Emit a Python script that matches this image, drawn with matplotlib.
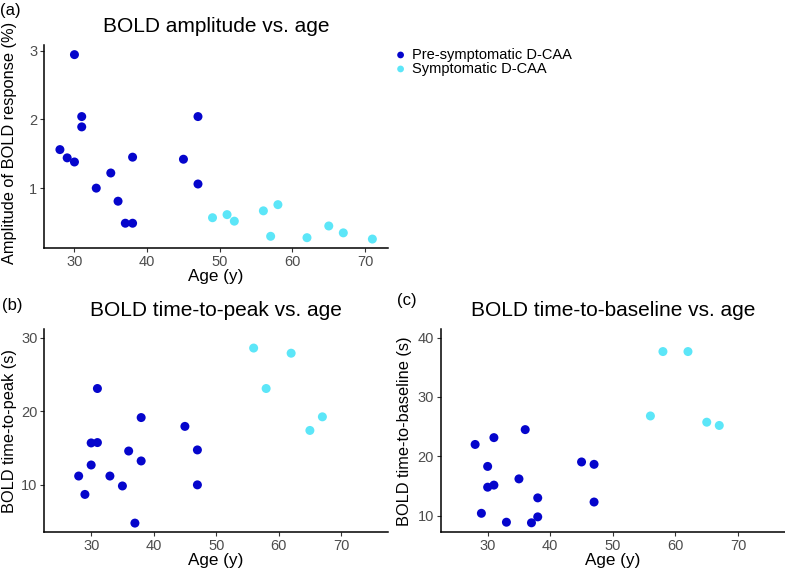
import matplotlib
matplotlib.use("Agg")
import matplotlib.pyplot as plt

plt.rcParams['font.family'] = ['Liberation Sans', 'DejaVu Sans']

# ---- data ----
pre_age_a = [28, 29, 30, 30, 31, 31, 33, 35, 36, 37, 38, 38, 45, 47, 47]
pre_amp = [1.56, 1.44, 1.38, 2.94, 2.04, 1.89, 1.00, 1.22, 0.81, 0.49, 0.49, 1.45, 1.42, 2.04, 1.06]
sym_age_a = [49, 51, 52, 56, 57, 58, 62, 65, 67, 71]
sym_amp = [0.57, 0.615, 0.52, 0.67, 0.30, 0.76, 0.28, 0.45, 0.35, 0.26]

pre_age_b = [28, 29, 30, 30, 31, 31, 33, 35, 36, 37, 38, 38, 45, 47, 47]
pre_ttp = [11.2, 8.7, 12.7, 15.7, 15.75, 23.1, 11.2, 9.85, 14.6, 4.8, 19.15, 13.25, 17.95, 14.75, 10.0]
sym_age_b = [56, 58, 62, 65, 67]
sym_ttp = [28.6, 23.1, 27.9, 17.4, 19.25]

pre_age_c = [28, 29, 30, 30, 31, 31, 33, 35, 36, 37, 38, 38, 45, 47, 47]
pre_ttb = [22.0, 10.4, 18.3, 14.8, 23.15, 15.15, 8.9, 16.2, 24.5, 8.8, 13.0, 9.8, 19.05, 18.65, 12.3]
sym_age_c = [56, 58, 62, 65, 67]
sym_ttb = [26.8, 37.65, 37.65, 25.75, 25.2]

group_labels = ["Pre-symptomatic D-CAA", "Symptomatic D-CAA"]
titles = ["BOLD amplitude vs. age", "BOLD time-to-peak vs. age", "BOLD time-to-baseline vs. age"]
ylabels = ["Amplitude of BOLD response (%)", "BOLD time-to-peak (s)", "BOLD time-to-baseline (s)"]
xlabel = "Age (y)"
panel_tags = ["(a)", "(b)", "(c)"]

dark = "#0505CC"
cyan = "#5CE6F8"

W, H = 785, 570
fig = plt.figure(figsize=(W / 100, H / 100), dpi=100)


def axbox(l, r, t, b):
    return [l / W, (H - b) / H, (r - l) / W, (b - t) / H]


def fy(py):
    return 1 - py / H


ax_a = fig.add_axes(axbox(44.3, 388, 45, 248))
ax_b = fig.add_axes(axbox(44.3, 388, 329.3, 532.3))
ax_c = fig.add_axes(axbox(440.7, 785, 329.3, 532.3))

ms = 42
for ax, (xp, yp, xs, ys) in zip(
    [ax_a, ax_b, ax_c],
    [(pre_age_a, pre_amp, sym_age_a, sym_amp),
     (pre_age_b, pre_ttp, sym_age_b, sym_ttp),
     (pre_age_c, pre_ttb, sym_age_c, sym_ttb)]):
    ax.scatter(xp, yp, s=ms, color=dark, edgecolors='none', label=group_labels[0], zorder=3)
    ax.scatter(xs, ys, s=ms, color=cyan, edgecolors='none', label=group_labels[1], zorder=3)
    for sp in ['top', 'right']:
        ax.spines[sp].set_visible(False)
    for sp in ['left', 'bottom']:
        ax.spines[sp].set_linewidth(1.1)
        ax.spines[sp].set_color('black')
    ax.tick_params(axis='both', length=3, width=0.8, color='#333333',
                   labelcolor='#4D4D4D', labelsize=10.5, pad=2)
    ax.set_xticks([30, 40, 50, 60, 70])

ax_a.set_xlim(25.85, 73.15)
ax_a.set_ylim(0.13, 3.08)
ax_a.set_yticks([1, 2, 3])

ax_b.set_xlim(22.5, 77.5)
ax_b.set_ylim(3.55, 31.15)
ax_b.set_yticks([10, 20, 30])

ax_c.set_xlim(22.5, 77.5)
ax_c.set_ylim(7.2, 41.4)
ax_c.set_yticks([10, 20, 30, 40])

# titles
tfs = 15
fig.text(216 / W, fy(31.5), titles[0], ha='center', va='baseline', fontsize=tfs)
fig.text(216 / W, fy(316.5), titles[1], ha='center', va='baseline', fontsize=tfs)
fig.text(613 / W, fy(315.7), titles[2], ha='center', va='baseline', fontsize=tfs)

# x labels
lfs = 12.3
fig.text(216 / W, fy(280.5), xlabel, ha='center', va='baseline', fontsize=lfs)
fig.text(216 / W, fy(564.5), xlabel, ha='center', va='baseline', fontsize=lfs)
fig.text(613 / W, fy(564.5), xlabel, ha='center', va='baseline', fontsize=lfs)

# y labels
fig.text(10 / W, fy(143), ylabels[0], ha='center', va='center', rotation=90, fontsize=11.8)
fig.text(10 / W, fy(431), ylabels[1], ha='center', va='center', rotation=90, fontsize=11.8)
fig.text(405 / W, fy(431), ylabels[2], ha='center', va='center', rotation=90, fontsize=11.8)

# panel tags
pfs = 12
fig.text(0 / W, fy(11), panel_tags[0], ha='left', va='center', fontsize=pfs)
fig.text(2 / W, fy(305.5), panel_tags[1], ha='left', va='center', fontsize=pfs)
fig.text(397 / W, fy(300), panel_tags[2], ha='left', va='center', fontsize=pfs)

# legend
handles, labels = ax_a.get_legend_handles_labels()
fig.legend(handles, labels, loc='upper left', bbox_to_anchor=(386 / W, fy(40.5)),
           frameon=False, fontsize=10.5, handletextpad=0.25, labelspacing=0.0,
           borderpad=0, handlelength=1.0, markerscale=0.75)

fig.savefig("out.png", dpi=100)
